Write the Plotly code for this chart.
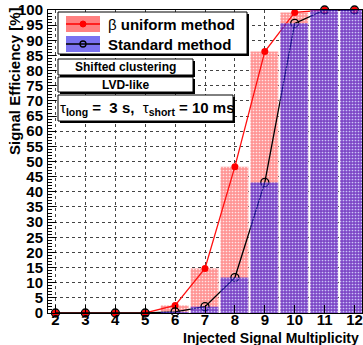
import plotly.graph_objects as go

# ---- data ----
multiplicity = [2, 3, 4, 5, 6, 7, 8, 9, 10, 11, 12]
eff_beta = [0.0, 0.0, 0.0, 0.0, 2.5, 14.7, 48.3, 86.3, 99.2, 100.0, 100.0]
eff_std = [0.0, 0.0, 0.0, 0.0, 0.4, 2.1, 11.7, 43.1, 95.6, 100.0, 100.0]
y_ticks = list(range(0, 101, 5))
x_ticks = list(range(2, 13))

W, H = 363, 345
L, R, T, B = 48, 1, 10, 32
PW, PH = W - L - R, H - T - B


def px(x):
    return (x - L) / PW


def py(y):
    return (H - B - y) / PH


FONT = "Liberation Sans"
RED_BAR = "#ff9494"
BLUE_BAR = "rgba(40,20,230,0.6)"

fig = go.Figure()

# red bars (beta uniform)
fig.add_trace(go.Bar(
    x=multiplicity, y=eff_beta, width=0.93, offset=-0.48,
    marker=dict(color=RED_BAR, line=dict(width=0),
                pattern=dict(shape=".", fillmode="replace", bgcolor=RED_BAR,
                             fgcolor="rgba(255,255,255,0.75)", size=3, solidity=0.25)),
    showlegend=False, hoverinfo="skip"))

# lines
fig.add_trace(go.Scatter(
    x=multiplicity, y=eff_beta, mode="lines+markers",
    line=dict(color="#ff1010", width=1.3),
    marker=dict(color="#ff0000", size=7, symbol="circle"),
    showlegend=False, cliponaxis=False))
fig.add_trace(go.Scatter(
    x=multiplicity, y=eff_std, mode="lines+markers",
    line=dict(color="#000000", width=1.3),
    marker=dict(color="#000000", size=8, symbol="circle-open", line=dict(width=1.3)),
    showlegend=False, cliponaxis=False))

# blue bars (standard) drawn on top, semi-transparent
fig.add_trace(go.Bar(
    x=multiplicity, y=eff_std, width=0.93, offset=-0.48,
    xaxis="x2", yaxis="y2",
    marker=dict(color=BLUE_BAR, line=dict(width=0),
                pattern=dict(shape=".", fillmode="replace", bgcolor=BLUE_BAR,
                             fgcolor="rgba(255,255,255,0.6)", size=3, solidity=0.25)),
    showlegend=False, hoverinfo="skip"))

axis_common = dict(showline=True, linecolor="black", linewidth=1, mirror=True,
                   ticks="inside", tickcolor="black",
                   tickfont=dict(family=FONT, size=15, color="black", weight="bold"),
                   showgrid=True, gridcolor="#444444", griddash="dot", gridwidth=1,
                   zeroline=False)

fig.update_layout(
    width=W, height=H,
    margin=dict(l=L, r=R, t=T, b=B),
    paper_bgcolor="white", plot_bgcolor="white",
    barmode="overlay",
    xaxis=dict(range=[1.75, 12.25], tickvals=x_ticks, ticklen=8,
               ticklabelstandoff=-7, **axis_common),
    yaxis=dict(range=[0, 100], tickvals=y_ticks, ticklen=8,
               minor=dict(dtick=1, ticklen=4, ticks="inside", tickcolor="black", showgrid=False),
               ticklabelstandoff=1, **axis_common),
    xaxis2=dict(range=[1.75, 12.25], overlaying="x", visible=False),
    yaxis2=dict(range=[0, 100], overlaying="y", visible=False),
)

shapes = []
annotations = []


def box(x0, y0, x1, y1):
    shapes.append(dict(type="rect", xref="paper", yref="paper",
                       x0=px(x0 + 2), x1=px(x1 + 2), y0=py(y1 + 2), y1=py(y0 + 2),
                       fillcolor="black", line=dict(width=0), layer="above"))
    shapes.append(dict(type="rect", xref="paper", yref="paper",
                       x0=px(x0), x1=px(x1), y0=py(y1), y1=py(y0),
                       fillcolor="white", line=dict(color="black", width=1), layer="above"))


# legend
box(58, 12, 247, 54)
shapes.append(dict(type="rect", xref="paper", yref="paper",
                   x0=px(66), x1=px(100), y0=py(32), y1=py(16),
                   fillcolor="#ff8080", line=dict(width=0), layer="above"))
shapes.append(dict(type="rect", xref="paper", yref="paper",
                   x0=px(66), x1=px(100), y0=py(52), y1=py(36),
                   fillcolor="#7a72f0", line=dict(width=0), layer="above"))
shapes.append(dict(type="line", xref="paper", yref="paper",
                   x0=px(66), x1=px(100), y0=py(24), y1=py(24),
                   line=dict(color="#ff0000", width=1.3), layer="above"))
shapes.append(dict(type="line", xref="paper", yref="paper",
                   x0=px(66), x1=px(100), y0=py(44), y1=py(44),
                   line=dict(color="#000000", width=1.3), layer="above"))
shapes.append(dict(type="circle", xref="paper", yref="paper",
                   x0=px(80), x1=px(86), y0=py(27), y1=py(21),
                   fillcolor="#ff0000", line=dict(color="#ff0000", width=1), layer="above"))
shapes.append(dict(type="circle", xref="paper", yref="paper",
                   x0=px(80), x1=px(86), y0=py(47), y1=py(41),
                   fillcolor="rgba(0,0,0,0)", line=dict(color="#000000", width=1.3), layer="above"))
annotations.append(dict(xref="paper", yref="paper", x=px(106), y=py(24),
                        xanchor="left", yanchor="middle", showarrow=False,
                        text="β <b>uniform method</b>",
                        font=dict(family=FONT, size=15, color="black")))
annotations.append(dict(xref="paper", yref="paper", x=px(106), y=py(44),
                        xanchor="left", yanchor="middle", showarrow=False,
                        text="<b>Standard method</b>",
                        font=dict(family=FONT, size=15, color="black")))

# text boxes
box(58, 59, 193, 75)
annotations.append(dict(xref="paper", yref="paper", x=px(125.5), y=py(67),
                        xanchor="center", yanchor="middle", showarrow=False,
                        text="<b>Shifted clustering</b>",
                        font=dict(family=FONT, size=12, color="black")))
box(58, 77, 193, 92)
annotations.append(dict(xref="paper", yref="paper", x=px(125.5), y=py(84.5),
                        xanchor="center", yanchor="middle", showarrow=False,
                        text="<b>LVD-like</b>",
                        font=dict(family=FONT, size=12, color="black")))
box(58, 95, 233, 121)
annotations.append(dict(xref="paper", yref="paper", x=px(147), y=py(108),
                        xanchor="center", yanchor="middle", showarrow=False,
                        text="τ<b><sub>long</sub> =  3 s,</b>  τ<b><sub>short</sub> = 10 ms</b>",
                        font=dict(family=FONT, size=15, color="black")))

# axis titles
annotations.append(dict(xref="paper", yref="paper", x=px(361), y=py(338),
                        xanchor="right", yanchor="middle", showarrow=False,
                        text="<b>Injected Signal Multiplicity</b>",
                        font=dict(family=FONT, size=14, color="black")))
annotations.append(dict(xref="paper", yref="paper", x=px(15), y=py(5),
                        xanchor="center", yanchor="top", showarrow=False, textangle=-90,
                        text="<b>Signal Efficiency [%]</b>",
                        font=dict(family=FONT, size=15, color="black")))

fig.update_layout(shapes=shapes, annotations=annotations)
fig.write_html("out.html")
